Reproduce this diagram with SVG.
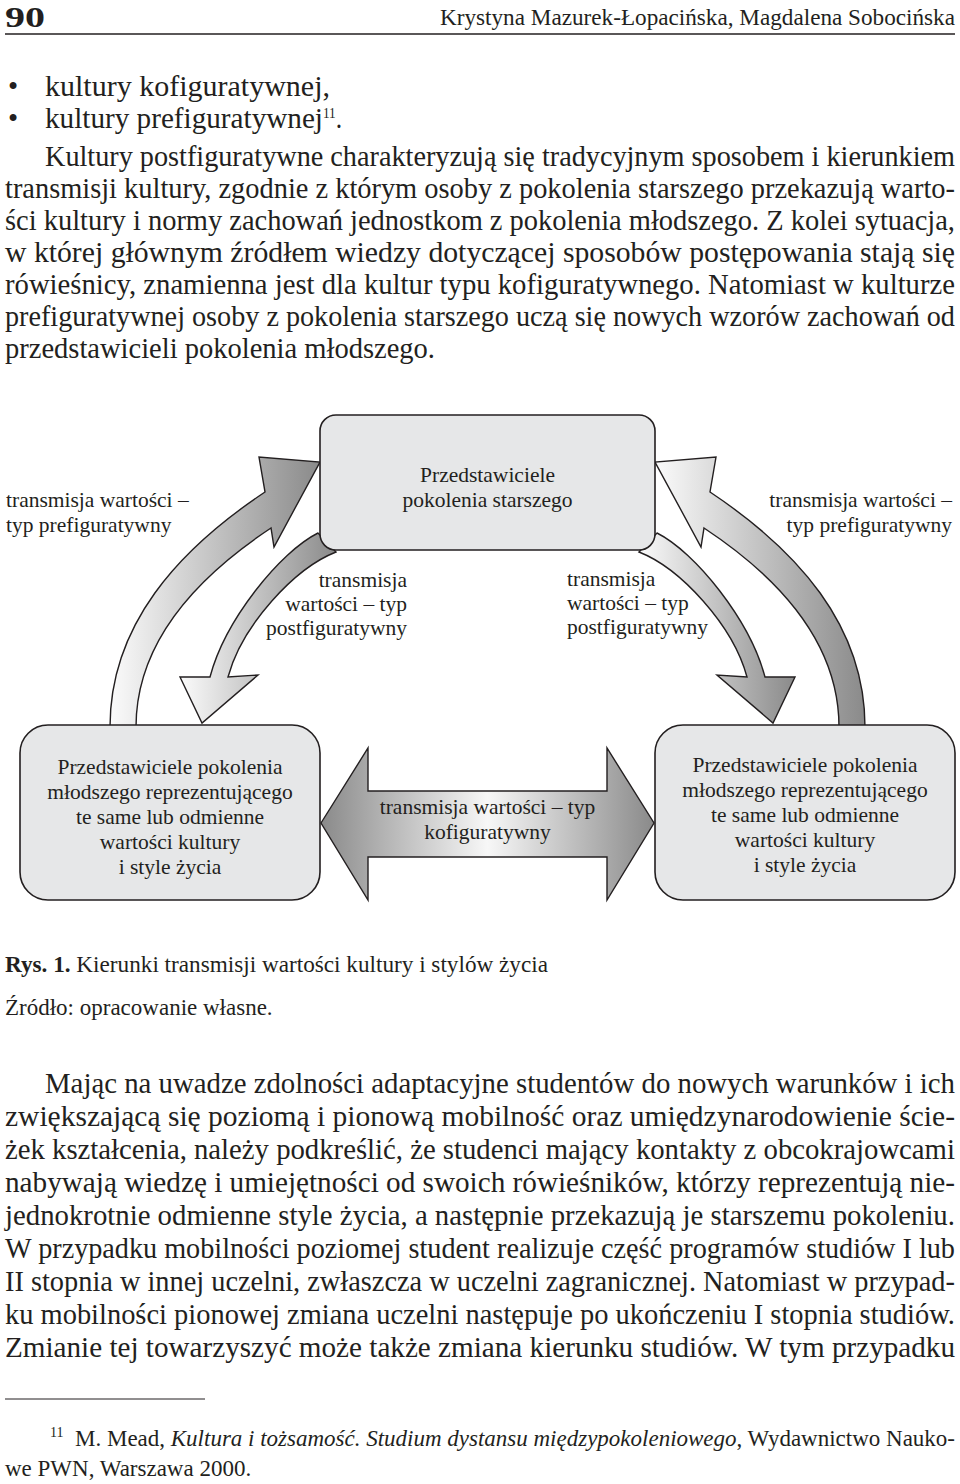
<svg xmlns="http://www.w3.org/2000/svg" width="960" height="1484" viewBox="0 0 960 1484">
<style>
text{font-family:"Liberation Serif","Times New Roman",serif;fill:#231f20}
.b{font-size:29px}
.d{font-size:21.5px}
.dm{font-size:21.5px;text-anchor:middle}
.de{font-size:21.5px;text-anchor:end}
.c{font-size:23px}
.box{fill:#e6e7e8;stroke:#231f20;stroke-width:1.6}
.arc{fill:url(#gArc);stroke:#231f20;stroke-width:1.4;stroke-linejoin:miter}
.mid{fill:url(#gMid);stroke:#231f20;stroke-width:1.4}
</style>
<defs>
<linearGradient id="gArc" x1="0" y1="0" x2="1" y2="0"><stop offset="0" stop-color="#fbfbfb"/><stop offset="1" stop-color="#8a8a8a"/></linearGradient>
<linearGradient id="gMid" x1="0" y1="0" x2="1" y2="0"><stop offset="0" stop-color="#8a8a8a"/><stop offset="0.5" stop-color="#f7f7f7"/><stop offset="1" stop-color="#8a8a8a"/></linearGradient>
</defs>
<rect width="960" height="1484" fill="#ffffff"/>

<g id="page-header">
<text x="5" y="27" font-size="30" font-weight="bold" textLength="40" lengthAdjust="spacingAndGlyphs">90</text>
<text x="955" y="25" font-size="23.5" text-anchor="end" textLength="515" lengthAdjust="spacingAndGlyphs">Krystyna Mazurek-Łopacińska, Magdalena Sobocińska</text>
<line x1="5" y1="34" x2="955" y2="34" stroke="#231f20" stroke-width="1.5"/>
</g>

<g id="text-top">
<text class="b" x="8" y="96">•</text>
<text class="b" transform="translate(45,96) scale(0.88,1)" textLength="323.9" lengthAdjust="spacingAndGlyphs">kultury kofiguratywnej,</text>
<text class="b" x="8" y="128">•</text>
<text class="b" transform="translate(45,128) scale(0.88,1)"><tspan textLength="315.9" lengthAdjust="spacingAndGlyphs">kultury prefiguratywnej</tspan><tspan font-size="15" dy="-10">11</tspan><tspan dy="10">.</tspan></text>
<text class="b" transform="translate(45,166) scale(0.88,1)" textLength="1034.1" lengthAdjust="spacingAndGlyphs">Kultury postfiguratywne charakteryzują się tradycyjnym sposobem i kierunkiem</text>
<text class="b" transform="translate(5,198) scale(0.88,1)" textLength="1079.5" lengthAdjust="spacingAndGlyphs">transmisji kultury, zgodnie z którym osoby z pokolenia starszego przekazują warto-</text>
<text class="b" transform="translate(5,230) scale(0.88,1)" textLength="1079.5" lengthAdjust="spacingAndGlyphs">ści kultury i normy zachowań jednostkom z pokolenia młodszego. Z kolei sytuacja,</text>
<text class="b" transform="translate(5,262) scale(0.88,1)" textLength="1079.5" lengthAdjust="spacingAndGlyphs">w której głównym źródłem wiedzy dotyczącej sposobów postępowania stają się</text>
<text class="b" transform="translate(5,294) scale(0.88,1)" textLength="1079.5" lengthAdjust="spacingAndGlyphs">rówieśnicy, znamienna jest dla kultur typu kofiguratywnego. Natomiast w kulturze</text>
<text class="b" transform="translate(5,326) scale(0.88,1)" textLength="1079.5" lengthAdjust="spacingAndGlyphs">prefiguratywnej osoby z pokolenia starszego uczą się nowych wzorów zachowań od</text>
<text class="b" transform="translate(5,358) scale(0.88,1)" textLength="488.6" lengthAdjust="spacingAndGlyphs">przedstawicieli pokolenia młodszego.</text>
</g>

<g id="connectors">
<path id="arrow-pre-left" class="arc" d="M110,727 C110,625 178,550 265,492 L259,457 L320,462 L274,547 L271,528 C200,575 136,640 136,727 Z"/>
<path id="arrow-post-left" class="arc" d="M318,533 C280,552 225,620 210,677 L180,677 L202,723 L258,675 L228,677 C242,625 295,568 336,552 Z"/>
<path id="arrow-pre-right" class="arc" d="M865,727 C865,625 797,550 710,492 L716,457 L655,462 L701,547 L704,528 C775,575 839,640 839,727 Z"/>
<path id="arrow-post-right" class="arc" d="M657,533 C695,552 750,620 765,677 L795,677 L773,723 L717,675 L747,677 C733,625 680,568 639,552 Z"/>
<path id="arrow-ko" class="mid" d="M321,823 L368,748 L368,791 L607,791 L607,748 L654,823 L607,900 L607,857 L368,857 L368,900 Z"/>
<text class="d" x="6" y="507">transmisja wartości –</text>
<text class="d" x="6" y="532">typ prefiguratywny</text>
<text class="de" x="952" y="507">transmisja wartości –</text>
<text class="de" x="952" y="532">typ prefiguratywny</text>
<text class="de" x="407" y="587">transmisja</text>
<text class="de" x="407" y="611">wartości – typ</text>
<text class="de" x="407" y="635">postfiguratywny</text>
<text class="d" x="567" y="586">transmisja</text>
<text class="d" x="567" y="610">wartości – typ</text>
<text class="d" x="567" y="634">postfiguratywny</text>
<text class="dm" x="487.5" y="814">transmisja wartości – typ</text>
<text class="dm" x="487.5" y="839">kofiguratywny</text>
</g>

<g id="node-older">
<rect class="box" x="320" y="415" width="335" height="135" rx="16"/>
<text class="dm" x="487.5" y="482">Przedstawiciele</text>
<text class="dm" x="487.5" y="507">pokolenia starszego</text>
</g>

<g id="node-younger-left">
<rect class="box" x="20" y="725" width="300" height="175" rx="28"/>
<text class="dm" x="170" y="774">Przedstawiciele pokolenia</text>
<text class="dm" x="170" y="799">młodszego reprezentującego</text>
<text class="dm" x="170" y="824">te same lub odmienne</text>
<text class="dm" x="170" y="849">wartości kultury</text>
<text class="dm" x="170" y="874">i style życia</text>
</g>

<g id="node-younger-right">
<rect class="box" x="655" y="725" width="300" height="175" rx="28"/>
<text class="dm" x="805" y="772">Przedstawiciele pokolenia</text>
<text class="dm" x="805" y="797">młodszego reprezentującego</text>
<text class="dm" x="805" y="822">te same lub odmienne</text>
<text class="dm" x="805" y="847">wartości kultury</text>
<text class="dm" x="805" y="872">i style życia</text>
</g>

<g id="caption">
<text class="c" x="5" y="972" textLength="543" lengthAdjust="spacingAndGlyphs"><tspan font-weight="bold">Rys. 1.</tspan> Kierunki transmisji wartości kultury i stylów życia</text>
<text class="c" x="5" y="1015">Źródło: opracowanie własne.</text>
</g>

<g id="text-bottom">
<text class="b" transform="translate(45,1093) scale(0.88,1)" textLength="1034.1" lengthAdjust="spacingAndGlyphs">Mając na uwadze zdolności adaptacyjne studentów do nowych warunków i ich</text>
<text class="b" transform="translate(5,1126) scale(0.88,1)" textLength="1079.5" lengthAdjust="spacingAndGlyphs">zwiększającą się poziomą i pionową mobilność oraz umiędzynarodowienie ście-</text>
<text class="b" transform="translate(5,1159) scale(0.88,1)" textLength="1079.5" lengthAdjust="spacingAndGlyphs">żek kształcenia, należy podkreślić, że studenci mający kontakty z obcokrajowcami</text>
<text class="b" transform="translate(5,1192) scale(0.88,1)" textLength="1079.5" lengthAdjust="spacingAndGlyphs">nabywają wiedzę i umiejętności od swoich rówieśników, którzy reprezentują nie-</text>
<text class="b" transform="translate(5,1225) scale(0.88,1)" textLength="1079.5" lengthAdjust="spacingAndGlyphs">jednokrotnie odmienne style życia, a następnie przekazują je starszemu pokoleniu.</text>
<text class="b" transform="translate(5,1258) scale(0.88,1)" textLength="1079.5" lengthAdjust="spacingAndGlyphs">W przypadku mobilności poziomej student realizuje część programów studiów I lub</text>
<text class="b" transform="translate(5,1291) scale(0.88,1)" textLength="1079.5" lengthAdjust="spacingAndGlyphs">II stopnia w innej uczelni, zwłaszcza w uczelni zagranicznej. Natomiast w przypad-</text>
<text class="b" transform="translate(5,1324) scale(0.88,1)" textLength="1079.5" lengthAdjust="spacingAndGlyphs">ku mobilności pionowej zmiana uczelni następuje po ukończeniu I stopnia studiów.</text>
<text class="b" transform="translate(5,1357) scale(0.88,1)" textLength="1079.5" lengthAdjust="spacingAndGlyphs">Zmianie tej towarzyszyć może także zmiana kierunku studiów. W tym przypadku</text>
</g>

<g id="footnote">
<line x1="5" y1="1399" x2="205" y2="1399" stroke="#231f20" stroke-width="1"/>
<text x="50" y="1437" font-size="14">11</text>
<text class="c" x="75" y="1446" textLength="880" lengthAdjust="spacingAndGlyphs">M. Mead, <tspan font-style="italic">Kultura i tożsamość. Studium dystansu międzypokoleniowego</tspan>, Wydawnictwo Nauko-</text>
<text class="c" x="5" y="1476">we PWN, Warszawa 2000.</text>
</g>
</svg>
